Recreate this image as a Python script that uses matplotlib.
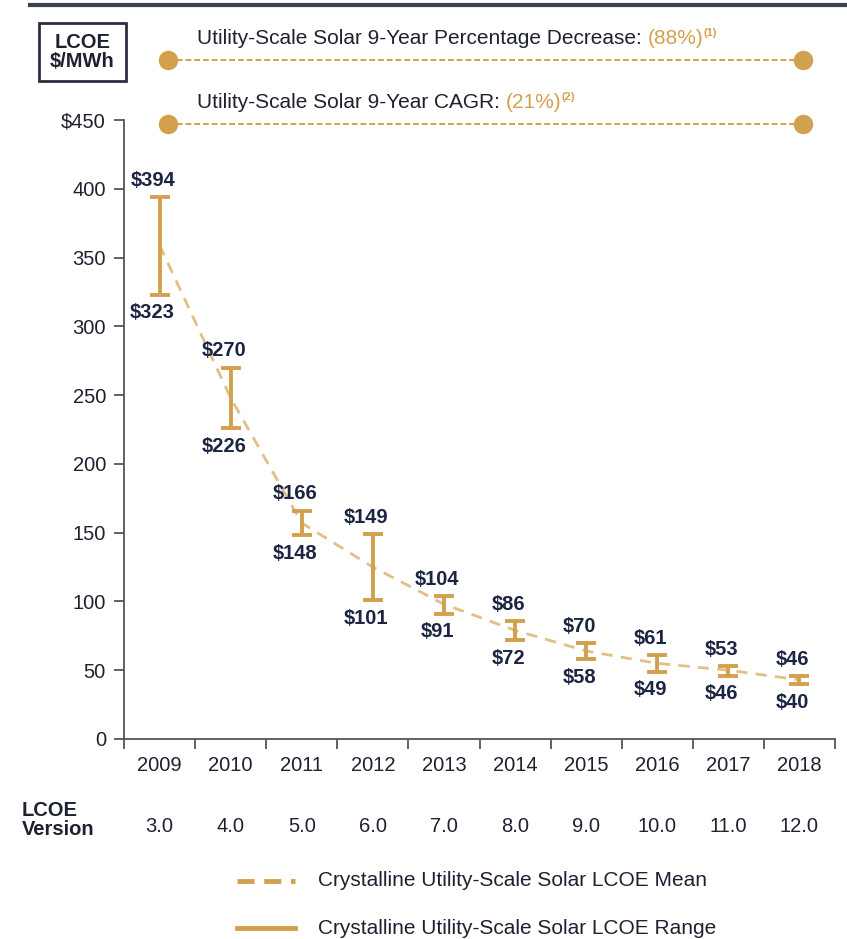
import numpy as np
import matplotlib
matplotlib.use("Agg")
import matplotlib.pyplot as plt
from matplotlib.lines import Line2D
from matplotlib.patches import Rectangle

plt.rcParams['font.family'] = ['Liberation Sans', 'DejaVu Sans']

years = ['2009', '2010', '2011', '2012', '2013', '2014', '2015', '2016', '2017', '2018']
versions = ['3.0', '4.0', '5.0', '6.0', '7.0', '8.0', '9.0', '10.0', '11.0', '12.0']
lcoe_high = [394, 270, 166, 149, 104, 86, 70, 61, 53, 46]
lcoe_low = [323, 226, 148, 101, 91, 72, 58, 49, 46, 40]
lcoe_mean = [359, 248, 157, 125, 98, 79, 64, 55, 50, 43]
y_ticks = [0, 50, 100, 150, 200, 250, 300, 350, 400, 450]

gold = '#D3A04E'
gold_light = '#E2BF86'
navy = '#1C2541'
txt = '#1E2230'

W, H = 847, 939
fig = plt.figure(figsize=(W / 100, H / 100), dpi=100)


def fx(px):
    return px / W


def fy(py):
    return 1 - py / H


ax = fig.add_axes([fx(124), fy(739), fx(835) - fx(124), fy(120) - fy(739)])
x = np.arange(len(years))

# mean line
ax.plot(x, lcoe_mean, color=gold_light, lw=2, ls=(0, (4, 3)), zorder=2)

# range bars
lo = np.array(lcoe_low)
hi = np.array(lcoe_high)
mid = (lo + hi) / 2
ax.errorbar(x, mid, yerr=[mid - lo, hi - mid], fmt='none', ecolor=gold,
            elinewidth=2.8, capsize=7.5, capthick=2.8, zorder=3)

for i in range(len(years)):
    ax.annotate('$' + str(lcoe_high[i]), (x[i], lcoe_high[i]), xytext=(-5, 12),
                textcoords='offset points', ha='center', va='center',
                fontsize=14.5, fontweight='bold', color=navy)
    ax.annotate('$' + str(lcoe_low[i]), (x[i], lcoe_low[i]), xytext=(-5, -13),
                textcoords='offset points', ha='center', va='center',
                fontsize=14.5, fontweight='bold', color=navy)

ax.set_xlim(-0.5, len(years) - 0.5)
ax.set_ylim(0, 450)
ax.set_yticks(y_ticks)
ax.set_yticklabels([str(v) if v != 450 else '$' + str(v) for v in y_ticks],
                   fontsize=14.5, color=txt)
ax.set_xticks(x)
ax.set_xticklabels(years, fontsize=14.5, color=txt)
ax.set_xticks(np.arange(-0.5, len(years)), minor=True)
ax.tick_params(axis='x', which='major', length=0, pad=12)
ax.tick_params(axis='x', which='minor', length=7, width=1.3, color='#555555')
ax.tick_params(axis='y', length=7, width=1.3, color='#555555', pad=6)
for s in ['top', 'right']:
    ax.spines[s].set_visible(False)
for s in ['left', 'bottom']:
    ax.spines[s].set_color('#555555')
    ax.spines[s].set_linewidth(1.3)

# version row
for i, v in enumerate(versions):
    ax.annotate(v, (x[i], 0), xycoords=('data', 'axes fraction'),
                xytext=(0, -(826 - 739) * 0.72), textcoords='offset points',
                ha='center', va='center', fontsize=14.5, color=txt)
fig.text(fx(22), fy(820), 'LCOE\nVersion', ha='left', va='center',
         fontsize=14.5, fontweight='bold', color=txt, linespacing=1.0)

# top rule
fig.add_artist(Line2D([fx(30), 1], [fy(5), fy(5)], color='#3C4150', lw=3))

# LCOE box
fig.add_artist(Rectangle((fx(39), fy(81)), fx(126) - fx(39), fy(23) - fy(81),
                         transform=fig.transFigure, fc='white', ec='#2A2F40',
                         lw=2))
fig.text(fx(82.5), fy(52), 'LCOE\n$/MWh', ha='center', va='center',
         fontsize=14.5, fontweight='bold', color=txt, linespacing=1.0)

# header rows
headers = [('Utility-Scale Solar 9-Year Percentage Decrease: ', '(88%)', '(1)'),
           ('Utility-Scale Solar 9-Year CAGR: ', '(21%)', '(2)')]
for (label, val, note), ly in zip(headers, [60, 124]):
    fig.add_artist(Line2D([fx(168), fx(803)], [fy(ly), fy(ly)], color=gold,
                          lw=1.4, ls=(0, (3, 1.5))))
    fig.add_artist(Line2D([fx(168), fx(803)], [fy(ly), fy(ly)], color=gold,
                          lw=0, marker='o', ms=13))
    t = fig.text(fx(197), fy(ly - 22), label, ha='left', va='center',
                 fontsize=15, color=txt)
    t2 = ax.annotate(val, xy=(1, 0.5), xycoords=t, ha='left', va='center',
                     fontsize=15, color=gold, annotation_clip=False)
    ax.annotate(note, xy=(1, 0.75), xycoords=t2, ha='left', va='center',
                fontsize=8, fontweight='bold', color=gold, annotation_clip=False)

# legend
fig.add_artist(Line2D([fx(237), fx(295)], [fy(881), fy(881)], color=gold,
                      lw=3.5, ls=(0, (3.5, 2))))
fig.text(fx(318), fy(881), 'Crystalline Utility-Scale Solar LCOE Mean',
         ha='left', va='center', fontsize=15, color=txt)
fig.add_artist(Line2D([fx(237), fx(295)], [fy(928), fy(928)], color=gold, lw=3.5))
fig.text(fx(318), fy(928), 'Crystalline Utility-Scale Solar LCOE Range',
         ha='left', va='center', fontsize=15, color=txt)

fig.savefig('out.png', dpi=100)
